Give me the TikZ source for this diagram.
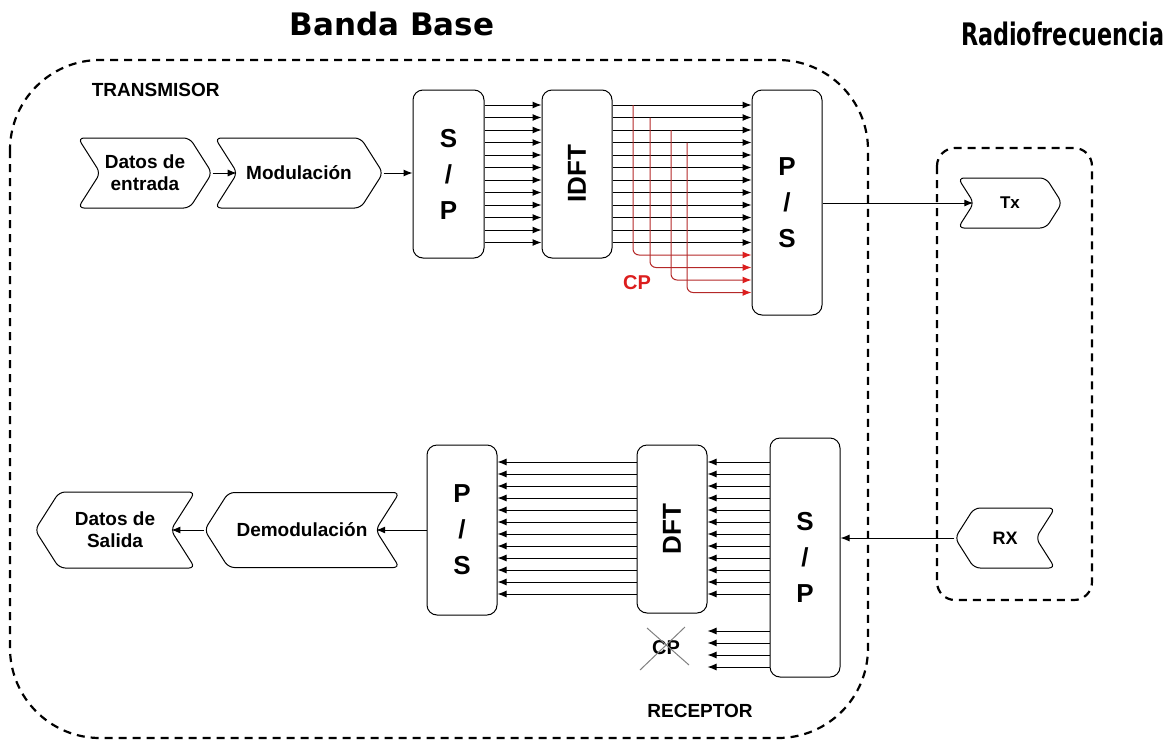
\documentclass[tikz,border=0pt]{standalone}
\usepackage{fontspec}
\setmainfont{Liberation Sans}
\newfontfamily\titlefont{DejaVu Sans}
\usetikzlibrary{arrows.meta,shapes.symbols}

\definecolor{cpred}{RGB}{220,30,30}
\definecolor{cpline}{RGB}{180,40,40}
\tikzset{
  blockbox/.style={draw, rounded corners=10pt, inner sep=0pt, align=center,
    font=\fontsize{26}{36}\selectfont\bfseries},
  sigbox/.style={draw, signal, signal pointer angle=115, rounded corners=6pt,
    inner sep=0pt, align=center, font=\fontsize{19}{22}\selectfont\bfseries},
  toright/.style={signal to=east, signal from=west},
  toleft/.style={signal to=west, signal from=east},
  dashbox/.style={draw, line width=2.2pt, dash pattern=on 8pt off 6pt, rounded corners=#1},
  titletext/.style={font=\titlefont\fontsize{31}{31}\selectfont\bfseries, anchor=base},
  labeltext/.style={font=\fontsize{19}{19}\selectfont\bfseries},
}

\begin{document}
\begin{tikzpicture}[>={Latex[length=9pt,width=7pt]}, x=1pt, y=-1pt, line width=1pt]
\useasboundingbox (0,0) rectangle (1175,742);
%% frames
\draw[dashbox=90pt] (10,60) rectangle (868,738);
\draw[dashbox=18pt] (937,148) rectangle (1092,600);
\node[titletext] (banda) at (392,35) {Banda Base};
\node[titletext, anchor=base east] (radio) at (1168,45) {\scalebox{0.72}[1]{Radiofrecuencia}};
\node[labeltext, anchor=west] (transm) at (88,90) {TRANSMISOR};
\node[labeltext] (recep) at (700,711) {RECEPTOR};
%% transmitter
  % Node: datos de entrada
\node[sigbox, toright, minimum width=134pt, minimum height=70pt] (din) at (145,173) {Datos de\\entrada};
  % Node: modulacion
\node[sigbox, toright, minimum width=168pt, minimum height=70pt] (mod) at (299,173) {Modulación};
  % Node: S/P, IDFT, P/S
\node[blockbox, minimum width=71pt, minimum height=168pt] (sptx) at (448.5,174) {S\\/\\P};
\node[blockbox, minimum width=70pt, minimum height=168pt] (idft) at (577,174) {\rotatebox{90}{IDFT}};
\node[blockbox, minimum width=70pt, minimum height=225pt] (pstx) at (787,202.5) {P\\/\\S};
  % Node: Tx
\node[sigbox, toright, minimum width=104pt, minimum height=50pt, font=\fontsize{17}{17}\selectfont\bfseries] (tx) at (1010,203) {Tx};
  % Edge: chain
\draw[->] (din.east) -- (mod.west);
\draw[->] (mod.east) -- (sptx.west |- mod.east);
\draw[->] (pstx.east |- tx.west) -- (tx.west);
  % Edge: parallel lines
\foreach \i [evaluate=\i as \yy using 105+12.5*\i] in {0,...,11} {
  \draw[->] (sptx.east |- 0,\yy) -- (idft.west |- 0,\yy);
  \draw[->] (idft.east |- 0,\yy) -- (pstx.west |- 0,\yy);
}
  % Edge: cyclic prefix
\foreach \i/\x in {0/633,1/650,2/671,3/687} {
  \pgfmathsetmacro\ya{105+12.5*\i}
  \pgfmathsetmacro\yb{255+12.5*\i}
  \draw[cpline, -{Latex[length=9pt,width=7pt,color=cpred]}, rounded corners=6pt] (\x,\ya) |- (pstx.west |- 0,\yb);
}
\node[labeltext, text=cpred, font=\fontsize{20}{20}\selectfont\bfseries] (cptx) at (637,283) {CP};
%% receiver
  % Node: RX
\node[sigbox, toleft, minimum width=100pt, minimum height=60pt, font=\fontsize{18}{18}\selectfont\bfseries] (rx) at (1005,538) {RX};
  % Node: S/P, DFT, P/S
\node[blockbox, minimum width=70pt, minimum height=239pt] (sprx) at (805,557.5) {S\\/\\P};
\node[blockbox, minimum width=70pt, minimum height=168pt] (dft) at (672,529) {\rotatebox{90}{DFT}};
\node[blockbox, minimum width=70pt, minimum height=170pt] (psrx) at (462,530) {P\\/\\S};
  % Node: demodulacion, datos de salida
\node[sigbox, toleft, minimum width=195pt, minimum height=75pt] (demod) at (302,530) {Demodulación};
\node[sigbox, toleft, minimum width=160pt, minimum height=76pt] (dout) at (115,530) {Datos de\\Salida};
  % Edge: chain
\draw[->] (rx.west) -- (sprx.east |- rx.west);
\draw[->] (psrx.west |- demod.east) -- (demod.east);
\draw[->] (demod.west) -- (dout.east);
  % Edge: parallel lines
\foreach \i [evaluate=\i as \yy using 462+12*\i] in {0,...,11} {
  \draw[->] (sprx.west |- 0,\yy) -- (dft.east |- 0,\yy);
  \draw[->] (dft.west |- 0,\yy) -- (psrx.east |- 0,\yy);
}
\foreach \i [evaluate=\i as \yy using 631+12*\i] in {0,...,3}
  \draw[->] (sprx.west |- 0,\yy) -- (dft.east |- 0,\yy);
  % Node: removed prefix
\node[labeltext, font=\fontsize{20}{20}\selectfont\bfseries] (cprx) at (666,648) {CP};
\draw[gray] ([shift={(-26,22)}]cprx.center) -- ([shift={(19,-21)}]cprx.center);
\draw[gray] ([shift={(-19,-20)}]cprx.center) -- ([shift={(23,17)}]cprx.center);
\end{tikzpicture}
\end{document}
